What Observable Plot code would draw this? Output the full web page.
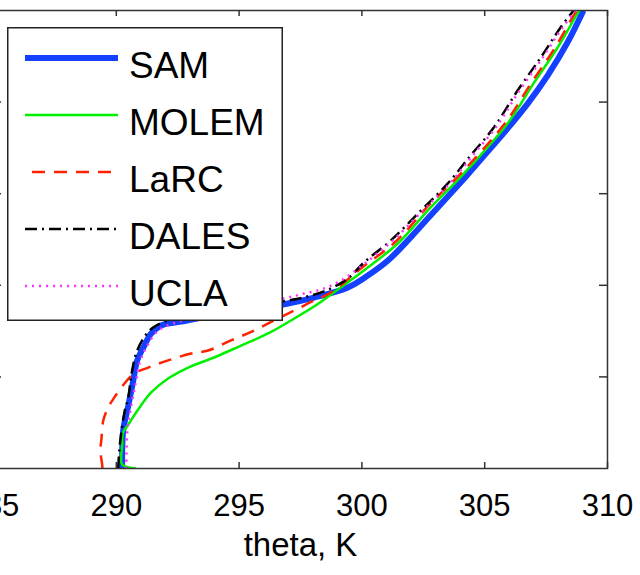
<!DOCTYPE html>
<html>
<head>
<meta charset="utf-8">
<script src="https://cdn.jsdelivr.net/npm/d3@7"></script>
<script src="https://cdn.jsdelivr.net/npm/@observablehq/plot@0.6"></script>
<style>
  html, body { margin: 0; padding: 0; background: #fff; overflow: hidden; }
  #wrap { position: relative; width: 640px; height: 575px; overflow: hidden; }
  #chart { position: absolute; left: -50px; top: 0; }
  #legend { position: absolute; left: 7px; top: 27px; }
</style>
</head>
<body>
<div id="wrap"><div id="chart"></div><svg id="legend" width="276" height="294"></svg></div>
<script>
// ---- data (potential temperature profiles, theta in K vs height in m) ----
const models = ["SAM", "MOLEM", "LaRC", "DALES", "UCLA"];

const samTheta = [290.24, 290.28, 290.49, 290.69, 290.85, 291.10, 291.42, 291.83, 292.64, 294.67, 296.99, 298.05, 299.43, 300.24, 301.06, 301.87, 302.68, 303.50, 304.31, 305.12, 305.93, 306.75, 307.56, 308.37, 309.02];
const samZ     = [0, 207, 344, 480, 590, 660, 737, 781, 802, 852, 901, 933, 988, 1053, 1135, 1245, 1365, 1485, 1605, 1730, 1856, 1992, 2145, 2325, 2500];

const molemTheta = [290.81, 290.24, 290.24, 290.28, 290.49, 290.89, 291.42, 292.11, 292.93, 293.98, 295.08, 296.18, 297.11, 298.05, 298.74, 300.08, 301.46, 302.80, 304.15, 305.93, 306.99, 307.97, 308.78, 308.86];
const molemZ     = [0, 22, 126, 197, 240, 322, 415, 491, 551, 606, 671, 737, 808, 884, 950, 1081, 1228, 1425, 1610, 1883, 2102, 2298, 2484, 2500];

const larcTheta = [289.43, 289.43, 289.35, 289.39, 289.47, 289.67, 289.92, 290.33, 290.73, 291.30, 292.11, 293.05, 293.74, 294.67, 295.61, 296.42, 297.24, 298.05, 298.74, 299.96, 301.38, 302.72, 304.07, 305.85, 306.91, 307.89, 308.70, 308.78];
const larcZ     = [0, 16, 98, 153, 262, 333, 388, 464, 519, 551, 590, 628, 644, 699, 753, 808, 862, 917, 961, 1092, 1239, 1436, 1616, 1889, 2107, 2303, 2489, 2500];

const dalesTheta = [290.08, 290.12, 290.20, 290.33, 290.49, 290.61, 290.81, 291.10, 291.50, 292.11, 292.85, 295.08, 296.99, 297.93, 298.74, 299.43, 300.08, 301.18, 302.40, 303.50, 304.43, 305.37, 306.34, 307.28, 308.09, 308.62];
const dalesZ     = [0, 98, 191, 306, 388, 508, 628, 710, 770, 808, 830, 879, 917, 944, 983, 1037, 1124, 1245, 1408, 1556, 1709, 1861, 2063, 2243, 2407, 2500];

const uclaTheta = [290.41, 290.45, 290.61, 290.81, 290.98, 291.26, 291.71, 292.44, 294.67, 296.99, 297.64, 298.33, 299.15, 300.16, 301.26, 302.48, 303.58, 304.51, 305.45, 306.42, 307.36, 308.17, 308.70];
const uclaZ     = [0, 207, 344, 480, 590, 671, 753, 797, 873, 933, 955, 977, 1026, 1124, 1245, 1408, 1556, 1709, 1861, 2063, 2243, 2407, 2500];

const xTicks = [285, 290, 295, 300, 305, 310];
const yTicks = [0, 500, 1000, 1500, 2000, 2500];
const xLabel = "theta, K";

// ---- styles ----
const styles = {
  SAM:   {stroke: "#1440ff", strokeWidth: 6,   dash: null},
  MOLEM: {stroke: "#00f000", strokeWidth: 2.5, dash: null},
  LaRC:  {stroke: "#ff2200", strokeWidth: 2.5, dash: "13,9"},
  DALES: {stroke: "#000000", strokeWidth: 2.5, dash: "12,5,2,5"},
  UCLA:  {stroke: "#ff33ff", strokeWidth: 2.5, dash: "2,5"}
};

const series = {
  SAM: [samTheta, samZ], MOLEM: [molemTheta, molemZ], LaRC: [larcTheta, larcZ],
  DALES: [dalesTheta, dalesZ], UCLA: [uclaTheta, uclaZ]
};
const table = models.map(m => series[m][0].map((t, i) => ({model: m, theta: t, z: series[m][1][i]})));

const W = 690, H = 575, mL = 43, mR = 33, mT = 10, mB = 107;
const fw = W - mL - mR, fh = H - mT - mB;

const lineMarks = models.map((m, k) => Plot.line(table[k], {
  x: "theta", y: "z", curve: "catmull-rom",
  stroke: styles[m].stroke, strokeWidth: styles[m].strokeWidth,
  strokeDasharray: styles[m].dash, strokeLinejoin: "round", strokeLinecap: "butt"
}));

const chart = Plot.plot({
  width: W, height: H,
  marginLeft: mL, marginRight: mR, marginTop: mT, marginBottom: mB,
  style: {fontFamily: "'Liberation Sans', Arial, Helvetica, sans-serif", color: "#000", background: "#fff"},
  x: {domain: [285, 310]},
  y: {domain: [0, 2500], axis: null},
  clip: true,
  marks: [
    ...lineMarks,
    Plot.ruleX(xTicks, {x: d => d, insetTop: fh - 6, stroke: "#333", strokeWidth: 1.5, clip: false}),
    Plot.ruleX(xTicks, {x: d => d, insetBottom: fh - 6, stroke: "#333", strokeWidth: 1.5, clip: false}),
    Plot.ruleY(yTicks.slice(1, -1), {y: d => d, insetLeft: fw - 8, stroke: "#333", strokeWidth: 1.5, clip: false}),
    Plot.ruleY(yTicks.slice(1, -1), {y: d => d, insetRight: fw - 8, stroke: "#333", strokeWidth: 1.5, clip: false}),
    Plot.frame({stroke: "#333", strokeWidth: 1.5, clip: false}),
    Plot.axisX({ticks: xTicks, tickSize: 0, tickPadding: 25, fontSize: 31, label: null, clip: false}),
    Plot.text([xLabel], {text: d => d, frameAnchor: "bottom", dy: 87, fontSize: 33, fill: "#000", clip: false})
  ]
});
document.getElementById("chart").appendChild(chart);

// ---- legend ----
const lg = d3.select("#legend");
lg.append("rect").attr("x", 0.75).attr("y", 0.75).attr("width", 274.5).attr("height", 292.5)
  .attr("fill", "#fff").attr("stroke", "#222").attr("stroke-width", 1.5);
models.forEach((m, i) => {
  const y = 31 + i * 57;
  lg.append("line").attr("x1", m === "LaRC" ? 25 : 18).attr("x2", 111).attr("y1", y).attr("y2", y)
    .attr("stroke", styles[m].stroke).attr("stroke-width", styles[m].strokeWidth)
    .attr("stroke-dasharray", styles[m].dash);
  lg.append("text").attr("x", 122).attr("y", y + 20).text(m)
    .attr("font-family", "'Liberation Sans', Arial, Helvetica, sans-serif")
    .attr("font-size", 37).attr("fill", "#000");
});
</script>
</body>
</html>
